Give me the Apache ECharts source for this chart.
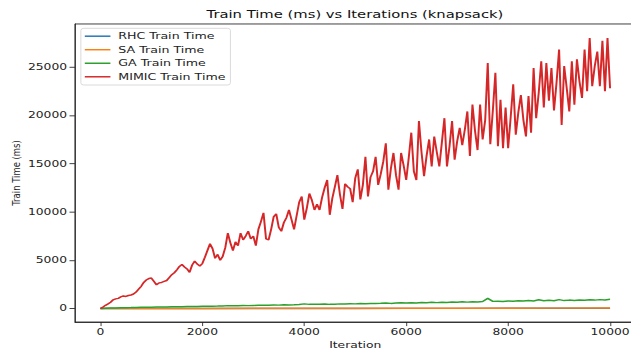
<!DOCTYPE html>
<html>
<head>
<meta charset="utf-8">
<script src="https://cdn.jsdelivr.net/npm/echarts@6/dist/echarts.min.js"></script>
<style>
  html, body { margin: 0; padding: 0; background: #fff; }
  #wrap { width: 631px; height: 353px; overflow: hidden; position: relative; background: #fff; }
  /* figure is laid out at 640x480 and squeezed into the 631x353 frame */
  #chart { width: 640px; height: 480px; transform-origin: 0 0; transform: scale(0.98594, 0.73542); }
</style>
</head>
<body>
<div id="wrap"><div id="chart"></div></div>
<script>
// Iterations sampled for MIMIC (every 50)
const mimicIterations = [
  0,50,100,150,200,250,300,350,400,450,500,550,600,650,700,750,800,850,900,950,
  1000,1050,1100,1150,1200,1250,1300,1350,1400,1450,1500,1550,1600,1650,1700,1750,1800,1850,1900,1950,
  2000,2050,2100,2150,2200,2250,2300,2350,2400,2450,2500,2550,2600,2650,2700,2750,2800,2850,2900,2950,
  3000,3050,3100,3150,3200,3250,3300,3350,3400,3450,3500,3550,3600,3650,3700,3750,3800,3850,3900,3950,
  4000,4050,4100,4150,4200,4250,4300,4350,4400,4450,4500,4550,4600,4650,4700,4750,4800,4850,4900,4950,
  5000,5050,5100,5150,5200,5250,5300,5350,5400,5450,5500,5550,5600,5650,5700,5750,5800,5850,5900,5950,
  6000,6050,6100,6150,6200,6250,6300,6350,6400,6450,6500,6550,6600,6650,6700,6750,6800,6850,6900,6950,
  7000,7050,7100,7150,7200,7250,7300,7350,7400,7450,7500,7550,7600,7650,7700,7750,7800,7850,7900,7950,
  8000,8050,8100,8150,8200,8250,8300,8350,8400,8450,8500,8550,8600,8650,8700,8750,8800,8850,8900,8950,
  9000,9050,9100,9150,9200,9250,9300,9350,9400,9450,9500,9550,9600,9650,9700,9750,9800,9850,9900,9950,
  10000
];
const mimicTime = [
  0,150,330,480,650,900,1000,1050,1200,1300,1250,1350,1400,1500,1700,2000,2300,2700,2950,3100,
  3150,2800,2450,2650,2700,2800,2900,3200,3500,3700,4000,4350,4550,4300,4100,3750,4500,4900,4600,4400,
  4650,5300,6000,6700,6200,5200,5600,5000,5400,6300,7800,6800,6000,6900,6500,7800,7100,7500,8000,7200,
  7500,6500,8200,9000,9900,7200,7100,8200,9500,9800,8400,8000,8900,9400,10200,9200,8200,9600,11000,11600,
  9200,10400,11900,11200,10200,10800,10200,11500,12500,13300,9700,11400,12600,13800,11800,10300,12900,12600,12400,11000,
  13500,14400,11300,12800,15700,11600,13600,14200,15700,12800,13900,15200,17100,12300,14500,16100,13800,12300,16100,14800,
  13300,15600,18200,14200,13300,19400,16200,13700,15800,17500,14700,17800,16200,14700,17200,19700,14700,16800,19400,15400,
  17300,18700,16900,18500,20400,15800,21100,18400,16400,21100,17500,19500,25400,17000,20500,24400,16800,21600,16600,20800,
  16600,19800,23200,18000,20300,22100,19500,17800,22000,18200,24900,19700,22300,25600,20800,25400,21500,24900,20500,23400,
  26800,19000,25100,22800,20400,25600,21100,25800,23500,21800,26800,22500,28000,23000,25100,26600,23000,27700,22500,28000,
  22800
];

// Iterations sampled for GA (every 100)
const gaIterations = [
  0,100,200,300,400,500,600,700,800,900,
  1000,1100,1200,1300,1400,1500,1600,1700,1800,1900,
  2000,2100,2200,2300,2400,2500,2600,2700,2800,2900,
  3000,3100,3200,3300,3400,3500,3600,3700,3800,3900,
  4000,4100,4200,4300,4400,4500,4600,4700,4800,4900,
  5000,5100,5200,5300,5400,5500,5600,5700,5800,5900,
  6000,6100,6200,6300,6400,6500,6600,6700,6800,6900,
  7000,7100,7200,7300,7400,7500,7600,7700,7800,7900,
  8000,8100,8200,8300,8400,8500,8600,8700,8800,8900,
  9000,9100,9200,9300,9400,9500,9600,9700,9800,9900,
  10000
];
const gaTime = [
  0,30,50,60,75,90,95,110,120,125,
  140,150,150,165,175,180,190,200,210,215,
  230,240,245,255,270,300,280,290,310,300,
  320,330,340,330,360,350,380,370,390,420,
  480,430,450,440,470,430,450,480,460,500,
  480,520,500,530,510,540,580,530,560,590,
  570,600,580,620,600,640,610,650,630,670,
  650,690,660,700,680,720,1050,740,760,720,
  780,750,800,770,820,780,900,800,850,810,
  920,820,870,840,890,850,900,870,920,880,
  950
];

// RHC and SA stay almost flat near zero
const flatIterations = [0,1000,2000,3000,4000,5000,6000,7000,8000,9000,10000];
const rhcTime = [0,3,5,7,9,11,13,15,17,19,21];
const saTime = [0,8,12,16,20,24,28,32,36,40,44];

const xTicks = [0,2000,4000,6000,8000,10000];
const yTicks = [0,5000,10000,15000,20000,25000];

const seriesNames = ['RHC Train Time','SA Train Time','GA Train Time','MIMIC Train Time'];
const seriesColors = ['#1f77b4','#ff7f0e','#2ca02c','#d62728'];

function pairs(xs, ys) { return xs.map((x, i) => [x, ys[i]]); }

const seriesData = [
  pairs(flatIterations, rhcTime),
  pairs(flatIterations, saTime),
  pairs(gaIterations, gaTime),
  pairs(mimicIterations, mimicTime)
];

const FONT = 'DejaVu Sans';
const INK = '#222';
const plain = v => String(v);

const chart = echarts.init(document.getElementById('chart'), null, { renderer: 'svg' });
chart.setOption({
  animation: false,
  backgroundColor: '#fff',
  title: {
    text: 'Train Time (ms) vs Iterations (knapsack)',
    left: 360, top: 12, textAlign: 'center', padding: 0,
    textStyle: { fontFamily: FONT, fontSize: 15, fontWeight: 'normal', color: '#111' }
  },
  legend: {
    orient: 'vertical',
    left: 82, top: 38.5,
    padding: [3.5, 5, 4, 4],
    backgroundColor: '#fff',
    borderColor: '#d4d4d4', borderWidth: 1, borderRadius: 3,
    itemWidth: 26, itemHeight: 2, itemGap: 4,
    icon: 'rect',
    data: seriesNames,
    textStyle: { fontFamily: FONT, fontSize: 12.8, color: INK, lineHeight: 14.4, padding: [0, 0, 0, 3] }
  },
  grid: {
    left: 76, right: -4.6, top: 32.6, bottom: 42.1,
    outerBoundsMode: 'none', containLabel: false,
    show: true, borderColor: INK, borderWidth: 1, backgroundColor: 'transparent'
  },
  xAxis: {
    type: 'value', min: -500, max: 10500,
    name: 'Iteration', nameLocation: 'middle', nameGap: 25, nameMoveOverlap: false,
    nameTextStyle: { fontFamily: FONT, fontSize: 12.5, color: INK },
    axisLine: { show: true, onZero: false, lineStyle: { color: INK, width: 1 } },
    axisTick: { show: true, length: 5.5, customValues: xTicks, lineStyle: { color: INK } },
    axisLabel: { customValues: xTicks, formatter: plain, margin: 7, fontFamily: FONT, fontSize: 12.5, color: INK },
    splitLine: { show: false }
  },
  yAxis: {
    type: 'value', min: -1400, max: 29450,
    name: 'Train Time (ms)', nameLocation: 'middle', nameGap: 54, nameRotate: 90, nameMoveOverlap: false,
    nameTextStyle: { fontFamily: FONT, fontSize: 11.5, color: INK },
    axisLine: { show: true, onZero: false, lineStyle: { color: INK, width: 1 } },
    axisTick: { show: true, length: 5.5, customValues: yTicks, lineStyle: { color: INK } },
    axisLabel: { customValues: yTicks, formatter: plain, margin: 8, fontFamily: FONT, fontSize: 12.5, color: INK },
    splitLine: { show: false }
  },
  series: seriesNames.map((name, i) => ({
    name: name,
    type: 'line',
    data: seriesData[i],
    showSymbol: false,
    symbol: 'none',
    color: seriesColors[i],
    lineStyle: { color: seriesColors[i], width: 2 },
    z: 2 + i
  }))
});
</script>
</body>
</html>
